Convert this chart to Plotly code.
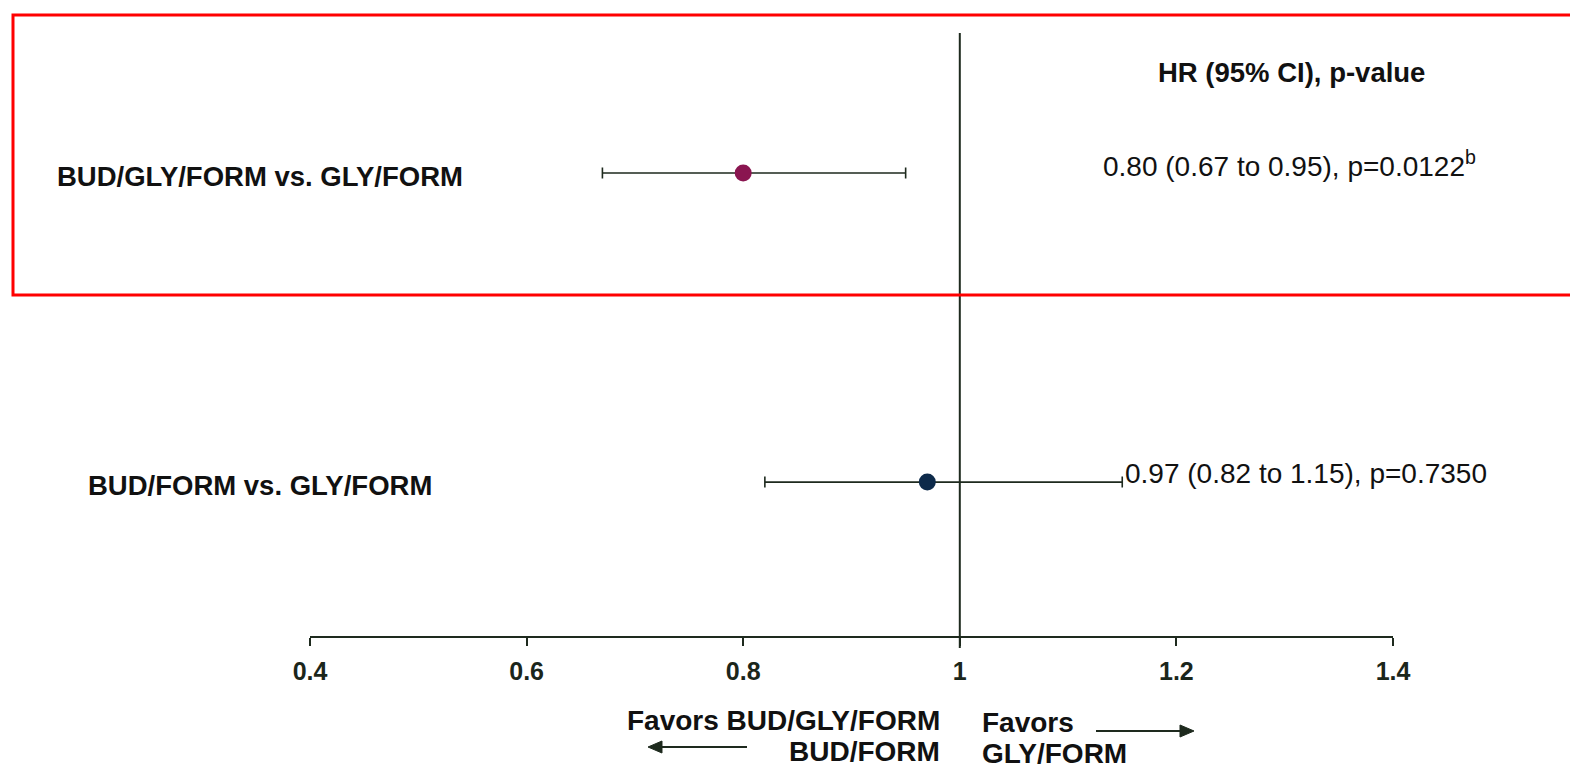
import plotly.graph_objects as go

# ---- data ----
comparisons = ["BUD/GLY/FORM vs. GLY/FORM", "BUD/FORM vs. GLY/FORM"]
hr = [0.80, 0.97]
ci_low = [0.67, 0.82]
ci_high = [0.95, 1.15]
value_text = ["0.80 (0.67 to 0.95), p=0.0122<sup>b</sup>", "0.97 (0.82 to 1.15), p=0.7350"]
colors = ["#8a1550", "#0d2a4a"]
row_pos = [1, 0]
tick_vals = [0.4, 0.6, 0.8, 1.0, 1.2, 1.4]
tick_text = ["0.4", "0.6", "0.8", "1", "1.2", "1.4"]
header = "HR (95% CI), p-value"

W, H = 1570, 766
def px(x):
    return x / W
def py(y):
    return 1 - y / H

LINE = "#1e2a1e"
FONT = "Liberation Sans, Arial"
fig = go.Figure()
for i in range(len(comparisons)):
    fig.add_trace(go.Scatter(
        x=[hr[i]], y=[row_pos[i]], mode="markers",
        marker=dict(size=17, color=colors[i]),
        error_x=dict(type="data", symmetric=False,
                     array=[ci_high[i] - hr[i]], arrayminus=[hr[i] - ci_low[i]],
                     color=LINE, thickness=1.6, width=5.5),
        showlegend=False, hoverinfo="skip"))

fig.update_layout(
    width=W, height=H, margin=dict(l=0, r=0, t=0, b=0, pad=0, autoexpand=False),
    paper_bgcolor="white", plot_bgcolor="white",
    xaxis=dict(domain=[px(310), px(1393)], range=[0.4, 1.4], tickvals=tick_vals,
               ticktext=["<b>%s</b>" % t for t in tick_text],
               showgrid=False, zeroline=False, showline=True, linecolor=LINE, linewidth=1.5,
               ticks="outside", ticklen=8, tickwidth=1.5, tickcolor=LINE,
               tickfont=dict(family=FONT, size=25, color="#1b261b"),
               ticklabelstandoff=4, automargin=False),
    yaxis=dict(domain=[py(636), py(33)], range=[-0.498, 1.453], visible=False, showgrid=False,
               automargin=False),
    font=dict(family=FONT, color="#111111"),
)

# reference line at HR = 1
fig.add_shape(type="line", xref="x", yref="y domain", x0=1, x1=1, y0=-0.02, y1=1,
              line=dict(color=LINE, width=2))

# highlight box (open on the right, runs off the page)
bx0, bx1, by0, by1 = px(13), 1.0, py(295), py(15)
fig.add_shape(type="path", xref="paper", yref="paper",
              path="M %f,%f L %f,%f L %f,%f L %f,%f" % (bx1, by1, bx0, by1, bx0, by0, bx1, by0),
              line=dict(color="#ff0000", width=3))

for i in range(len(comparisons)):
    fig.add_annotation(x=px(260), y=row_pos[i], xref="paper", yref="y", text="<b>%s</b>" % comparisons[i],
                       showarrow=False, xanchor="center", yanchor="middle", yshift=-3,
                       font=dict(size=27.5, color="#111111"))

fig.add_annotation(x=px(1101), y=py(164), xref="paper", yref="paper", text=value_text[0],
                   showarrow=False, xanchor="left", yanchor="middle", font=dict(size=28, color="#111111"))
fig.add_annotation(x=px(1123), y=py(473), xref="paper", yref="paper", text=value_text[1],
                   showarrow=False, xanchor="left", yanchor="middle", font=dict(size=28, color="#111111"))
fig.add_annotation(x=px(1291), y=py(73), xref="paper", yref="paper", text="<b>%s</b>" % header,
                   showarrow=False, xanchor="center", yanchor="middle", font=dict(size=27.5, color="#111111"))

NARROW = "Liberation Sans Narrow, Arial Narrow, Liberation Sans"
fig.add_annotation(x=px(942), y=py(720), xref="paper", yref="paper", text="<b>Favors BUD/GLY/FORM</b>",
                   showarrow=False, xanchor="right", yanchor="middle", font=dict(family=NARROW, size=28, color="#111111"))
fig.add_annotation(x=px(942), y=py(751), xref="paper", yref="paper", text="<b>BUD/FORM</b>",
                   showarrow=False, xanchor="right", yanchor="middle", font=dict(family=NARROW, size=28, color="#111111"))
fig.add_annotation(x=px(980), y=py(722), xref="paper", yref="paper", text="<b>Favors</b>",
                   showarrow=False, xanchor="left", yanchor="middle", font=dict(family=NARROW, size=28, color="#111111"))
fig.add_annotation(x=px(980), y=py(753), xref="paper", yref="paper", text="<b>GLY/FORM</b>",
                   showarrow=False, xanchor="left", yanchor="middle", font=dict(family=NARROW, size=28, color="#111111"))

# arrows (line + filled head)
def arrow(x_tail, x_tip, y, head=14, half=6):
    d = 1 if x_tip > x_tail else -1
    base = x_tip - d * head
    fig.add_shape(type="line", xref="paper", yref="paper", x0=px(x_tail), x1=px(base), y0=py(y), y1=py(y),
                  line=dict(color=LINE, width=2))
    fig.add_shape(type="path", xref="paper", yref="paper",
                  path="M %f,%f L %f,%f L %f,%f Z" % (px(x_tip), py(y), px(base), py(y - half), px(base), py(y + half)),
                  fillcolor=LINE, line=dict(color=LINE, width=1))

arrow(747, 648, 747)
arrow(1096, 1194, 731)

fig.write_html("out.html")
